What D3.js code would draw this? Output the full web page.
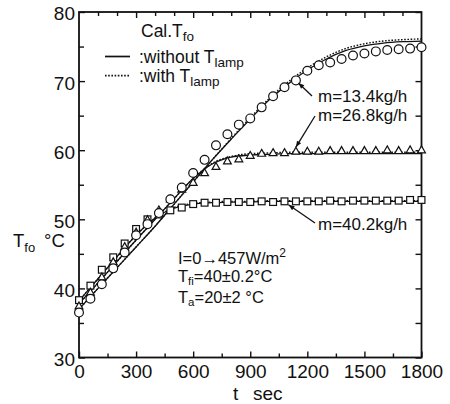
<!DOCTYPE html>
<html>
<head>
<meta charset="utf-8">
<script src="https://cdn.jsdelivr.net/npm/d3@7"></script>
<style>
  html, body { margin: 0; padding: 0; background: #fff; }
  svg { display: block; }
  text { font-family: "Liberation Sans", Arial, Helvetica, sans-serif; fill: #111; }
</style>
</head>
<body>
<script>
// Measured outlet temperature (every 60 s) for three flow rates
const measTimes = [0,60,120,180,240,300,360,420,480,540,600,660,720,780,840,900,
                   960,1020,1080,1140,1200,1260,1320,1380,1440,1500,1560,1620,1680,1740,1800];
const meas134 = [36.5,38.5,40.6,42.9,45.2,47.7,49.3,50.9,52.9,54.6,56.7,58.6,60.7,62.3,63.7,64.6,
                 66.2,67.8,69.1,70.1,71.5,72.3,72.7,73.2,73.7,74.0,74.3,74.5,74.6,74.7,74.9];
const meas268 = [37.4,39.4,41.6,43.8,46.0,48.1,49.9,51.3,52.9,54.3,55.3,56.7,57.6,58.4,58.7,59.2,
                 59.5,59.6,59.6,59.8,59.8,59.8,59.9,59.9,59.9,59.9,59.9,60.0,59.9,60.0,60.0];
const meas402 = [38.3,40.4,42.7,44.5,46.5,48.6,50.0,50.7,51.3,51.7,52.2,52.4,52.4,52.5,52.5,52.5,
                 52.6,52.5,52.6,52.6,52.6,52.6,52.7,52.6,52.7,52.7,52.7,52.7,52.7,52.8,52.8];

// Calculated outlet temperature (every 100 s)
const calcTimes = [0,100,200,300,400,500,600,700,800,900,1000,1100,1200,1300,1400,1500,1600,1700,1800];
const calc134NoLamp = [37.0,40.0,43.0,46.0,49.0,52.2,55.4,58.6,61.6,64.5,67.3,69.6,71.6,73.2,74.4,75.1,75.5,75.7,75.8];
const calc134Lamp   = [37.0,40.0,43.0,46.0,49.0,52.2,55.4,58.6,61.7,64.7,67.5,69.9,71.9,73.5,74.7,75.4,75.8,76.0,76.1];
const calc268NoLamp = [37.8,40.8,43.9,47.0,50.0,53.0,55.9,58.0,59.0,59.3,59.4,59.5,59.5,59.5,59.5,59.5,59.5,59.5,59.5];
const calc268Lamp   = [37.8,40.8,43.9,47.0,50.0,53.0,55.9,58.1,59.1,59.5,59.6,59.7,59.7,59.7,59.7,59.7,59.7,59.7,59.7];
const calc402NoLamp = [38.2,41.4,44.6,47.7,50.2,51.6,52.2,52.4,52.5,52.5,52.6,52.6,52.6,52.6,52.6,52.6,52.6,52.6,52.6];
const calc402Lamp   = [38.2,41.4,44.6,47.7,50.2,51.7,52.3,52.5,52.6,52.6,52.7,52.7,52.7,52.7,52.7,52.7,52.7,52.7,52.7];

// Axis ticks
const xMajor = [0,300,600,900,1200,1500,1800];
const xMinor = [150,450,750,1050,1350,1650];
const xTop = [100,200,300,400,500,600,700,800,900,1000,1100,1200,1300,1400,1500,1600,1700];
const yMajor = [30,40,50,60,70,80];
const yMinor = [35,45,55,65,75];

const W = 450, H = 404;
const svg = d3.select("body").append("svg").attr("width", W).attr("height", H);

const x = d3.scaleLinear().domain([0, 1800]).range([79, 421.5]);
const y = d3.scaleLinear().domain([30, 80]).range([357.5, 12]);

const ink = "#111";
const labelFont = "Liberation Sans, Arial, sans-serif";

// Frame
svg.append("rect")
  .attr("x", x(0)).attr("y", y(80))
  .attr("width", x(1800) - x(0)).attr("height", y(30) - y(80))
  .attr("fill", "none").attr("stroke", ink).attr("stroke-width", 1.8);

function styleAxis(g) {
  g.select(".domain").remove();
  g.selectAll(".tick line").attr("stroke", ink).attr("stroke-width", 1.4);
  g.selectAll("text").attr("fill", ink);
}

// Bottom axis: labelled majors and short minors, pointing inward
svg.append("g").attr("transform", `translate(0,${y(30)})`)
  .call(d3.axisBottom(x).tickValues(xMajor).tickSize(-6).tickPadding(7).tickFormat(d3.format("d")))
  .call(styleAxis)
  .call(g => g.selectAll("text").attr("font-size", 19).attr("font-family", labelFont));
svg.append("g").attr("transform", `translate(0,${y(30)})`)
  .call(d3.axisBottom(x).tickValues(xMinor).tickSize(-4).tickFormat(""))
  .call(styleAxis);

// Top axis ticks (longer every 300 s)
svg.append("g").attr("transform", `translate(0,${y(80)})`)
  .call(d3.axisTop(x).tickValues(xTop).tickSize(-4).tickFormat(""))
  .call(styleAxis)
  .call(g => g.selectAll(".tick line").attr("y2", d => d % 300 === 0 ? 6 : 4));

// Left axis
svg.append("g").attr("transform", `translate(${x(0)},0)`)
  .call(d3.axisLeft(y).tickValues(yMajor).tickSizeInner(-6).tickSizeOuter(0).tickPadding(5).tickFormat(d3.format("d")))
  .call(styleAxis)
  .call(g => g.selectAll("text").attr("font-size", 19).attr("dy", "0.42em").attr("x", -4)
                .attr("font-family", labelFont));
svg.append("g").attr("transform", `translate(${x(0)},0)`)
  .call(d3.axisLeft(y).tickValues(yMinor).tickSize(-5).tickFormat(""))
  .call(styleAxis);

// Right axis
svg.append("g").attr("transform", `translate(${x(1800)},0)`)
  .call(d3.axisRight(y).tickValues(yMajor.concat(yMinor)).tickSize(-6).tickFormat(""))
  .call(styleAxis);

// Axis titles
const xt = svg.append("text").attr("y", 400).attr("font-size", 19);
xt.append("tspan").attr("x", 233).text("t");
xt.append("tspan").attr("x", 253).text("sec");

const yt = svg.append("text").attr("y", 247).attr("font-size", 18.5);
yt.append("tspan").attr("x", 13).text("T");
yt.append("tspan").attr("font-size", 13).attr("dy", 5).text("fo");
yt.append("tspan").attr("x", 44).attr("dy", -5).text("°C");

// Calculated curves
const line = d3.line()
  .x((d, i) => x(calcTimes[i]))
  .y(d => y(d))
  .curve(d3.curveMonotoneX);

const plot = svg.append("g");
[calc134Lamp, calc268Lamp, calc402Lamp].forEach(s => {
  plot.append("path").attr("d", line(s)).attr("fill", "none")
    .attr("stroke", ink).attr("stroke-width", 1.4).attr("stroke-dasharray", "1.6,1.6");
});
[calc134NoLamp, calc268NoLamp, calc402NoLamp].forEach(s => {
  plot.append("path").attr("d", line(s)).attr("fill", "none")
    .attr("stroke", ink).attr("stroke-width", 1.3);
});

// Measured points
const mk = svg.append("g").attr("fill", "#fff").attr("stroke", ink).attr("stroke-width", 1.2);
mk.selectAll(".sq").data(meas402).join("rect")
  .attr("x", (d, i) => x(measTimes[i]) - 3.4).attr("y", d => y(d) - 3.4)
  .attr("width", 6.8).attr("height", 6.8);
mk.selectAll(".tri").data(meas268).join("path")
  .attr("d", (d, i) => {
    const cx = x(measTimes[i]), cy = y(d);
    return `M${cx},${cy - 4.3}L${cx + 3.9},${cy + 2.6}L${cx - 3.9},${cy + 2.6}Z`;
  });
mk.selectAll(".ci").data(meas134).join("circle")
  .attr("cx", (d, i) => x(measTimes[i])).attr("cy", d => y(d)).attr("r", 4.4);

// Legend
const lg = svg.append("g");
const t1 = lg.append("text").attr("x", 141).attr("y", 37).attr("font-size", 17.5);
t1.append("tspan").text("Cal.T");
t1.append("tspan").attr("font-size", 13.5).attr("dy", 4).text("fo");

lg.append("line").attr("x1", 105).attr("x2", 130).attr("y1", 56.5).attr("y2", 56.5)
  .attr("stroke", ink).attr("stroke-width", 1.7);
const t2 = lg.append("text").attr("x", 139).attr("y", 62.5).attr("font-size", 17.5);
t2.append("tspan").text(":without T");
t2.append("tspan").attr("font-size", 13.5).attr("dy", 4).text("lamp");

lg.append("line").attr("x1", 105).attr("x2", 130).attr("y1", 75.7).attr("y2", 75.7)
  .attr("stroke", ink).attr("stroke-width", 1.7).attr("stroke-dasharray", "1.6,1.6");
const t3 = lg.append("text").attr("x", 139).attr("y", 81.5).attr("font-size", 17.5);
t3.append("tspan").text(":with T");
t3.append("tspan").attr("font-size", 13.5).attr("dy", 4).text("lamp");

// Flow-rate labels with pointer arrows
function arrow(x1, y1, x2, y2) {
  svg.append("line").attr("x1", x1).attr("y1", y1).attr("x2", x2).attr("y2", y2)
    .attr("stroke", ink).attr("stroke-width", 1.3);
  const a = Math.atan2(y2 - y1, x2 - x1), L = 6, w = 2.4;
  const bx = x2 - L * Math.cos(a), by = y2 - L * Math.sin(a);
  svg.append("path")
    .attr("d", `M${x2},${y2}L${bx - w * Math.sin(a)},${by + w * Math.cos(a)}L${bx + w * Math.sin(a)},${by - w * Math.cos(a)}Z`)
    .attr("fill", ink);
}
svg.append("text").attr("x", 318).attr("y", 101.5).attr("font-size", 17).text("m=13.4kg/h");
arrow(312, 96, x(1140) + 2.5, y(meas134[19]) + 2.5);
svg.append("text").attr("x", 318).attr("y", 120.5).attr("font-size", 17).text("m=26.8kg/h");
arrow(315, 116, x(1140), y(meas268[19]) - 4.5);
svg.append("text").attr("x", 318).attr("y", 230).attr("font-size", 17).text("m=40.2kg/h");
arrow(315, 223, x(1080) + 4, y(meas402[18]) + 3.5);

// Test conditions
const c1 = svg.append("text").attr("x", 178).attr("y", 264).attr("font-size", 16.5);
c1.append("tspan").text("I=0→457W/m");
c1.append("tspan").attr("font-size", 12).attr("dy", -7).text("2");
const c2 = svg.append("text").attr("x", 178).attr("y", 282).attr("font-size", 16.5);
c2.append("tspan").text("T");
c2.append("tspan").attr("font-size", 11.5).attr("dy", 3).text("fi");
c2.append("tspan").attr("dy", -3).text("=40±0.2°C");
const c3 = svg.append("text").attr("x", 178).attr("y", 302.5).attr("font-size", 16.5);
c3.append("tspan").text("T");
c3.append("tspan").attr("font-size", 11.5).attr("dy", 3).text("a");
c3.append("tspan").attr("dy", -3).text("=20±2 °C");
</script>
</body>
</html>
